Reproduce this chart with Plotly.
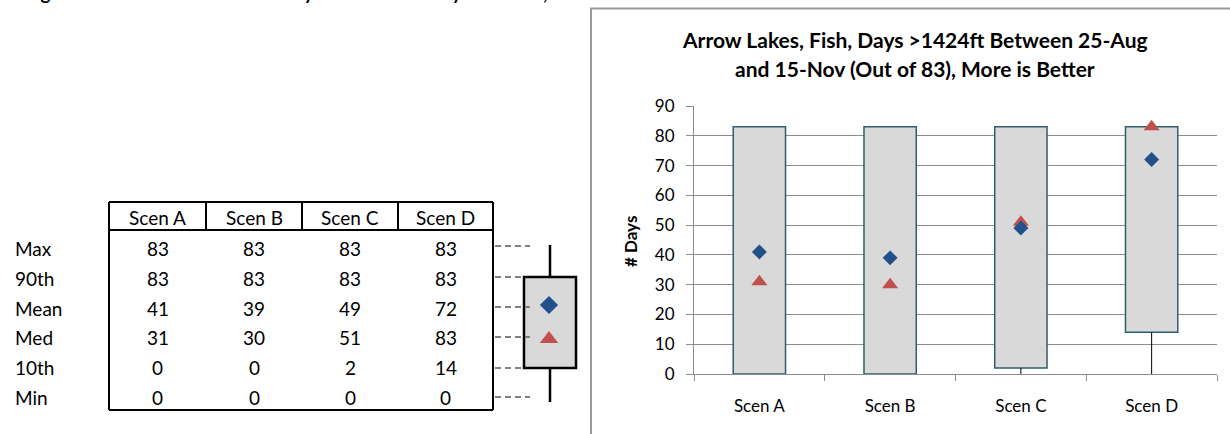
import plotly.graph_objects as go

# ---------------- data ----------------
scenarios = ["Scen A", "Scen B", "Scen C", "Scen D"]
stat_labels = ["Max", "90th", "Mean", "Med", "10th", "Min"]
max_vals = [83, 83, 83, 83]
p90_vals = [83, 83, 83, 83]
mean_vals = [41, 39, 49, 72]
med_vals = [31, 30, 51, 83]
p10_vals = [0, 0, 2, 14]
min_vals = [0, 0, 0, 0]

title_lines = ["Arrow Lakes, Fish, Days >1424ft Between 25-Aug",
               "and 15-Nov (Out of 83), More is Better"]
y_title = "# Days"
top_caption = "Figure 38 \u2013 Arrow Lakes Summary Statistics for Days >1424ft, All Scenarios"

W, H = 1230, 434
FONT = "Lato, Calibri, Carlito, sans-serif"
GRID = "#8C8C8C"
BOX_FILL = "#D9D9D9"
BOX_LINE = "#2E5E6E"
BLUE = "#22508A"
RED = "#C0504D"

fig = go.Figure()

# ---------------- main chart ----------------
wx, wy = [], []
for s, lo, p10, p90, hi in zip(scenarios, min_vals, p10_vals, p90_vals, max_vals):
    wx += [s, s, None, s, s, None]
    wy += [lo, p10, None, p90, hi, None]
fig.add_trace(go.Scatter(x=wx, y=wy, mode="lines", line=dict(color="black", width=1),
                         showlegend=False, hoverinfo="skip"))

fig.add_trace(go.Bar(x=scenarios, y=[h - l for h, l in zip(p90_vals, p10_vals)], base=p10_vals,
                     width=0.4, marker=dict(color=BOX_FILL, line=dict(color=BOX_LINE, width=1.5)),
                     showlegend=False))

fig.add_trace(go.Scatter(x=scenarios, y=med_vals, mode="markers",
                         marker=dict(symbol="triangle-up", size=14, color=RED),
                         showlegend=False))
fig.add_trace(go.Scatter(x=scenarios, y=mean_vals, mode="markers",
                         marker=dict(symbol="diamond", size=11.5, color=BLUE),
                         showlegend=False))

x0p, x1p = 694, 1217
y_top, y_bot = 106, 374

fig.update_layout(
    width=W, height=H, margin=dict(l=0, r=0, t=0, b=0, pad=0, autoexpand=False),
    paper_bgcolor="white", plot_bgcolor="rgba(0,0,0,0)",
    font=dict(family=FONT, color="black"),
    barmode="overlay",
    xaxis=dict(domain=[x0p / W, x1p / W], type="category", tickson="boundaries",
               ticks="outside", ticklen=6, tickcolor=GRID, showline=True, linecolor=GRID,
               showgrid=False, tickfont=dict(size=17), ticklabelstandoff=17,
               range=[-0.5, 3.5], anchor="y", automargin=False),
    yaxis=dict(domain=[(H - y_bot) / H, (H - y_top) / H], range=[0, 90], dtick=10,
               showgrid=True, gridcolor=GRID, gridwidth=1, zeroline=False,
               showline=True, linecolor=GRID, ticks="outside", ticklen=7, tickcolor=GRID,
               tickfont=dict(size=17), ticklabelstandoff=8, anchor="x", automargin=False),
    xaxis2=dict(domain=[0, 1], range=[0, W], visible=False, anchor="y2",
                fixedrange=True, automargin=False),
    yaxis2=dict(domain=[0, 1], range=[H, 0], visible=False, anchor="x2",
                fixedrange=True, automargin=False),
)

shapes = []
ann = []

def line(x0, y0, x1, y1, color="black", width=2, dash=None):
    shapes.append(dict(type="line", xref="x2", yref="y2", x0=x0, y0=y0, x1=x1, y1=y1,
                       line=dict(color=color, width=width, dash=dash)))

def text(x, y, t, size=19, xanchor="center", bold=False, angle=0, yanchor="middle"):
    ann.append(dict(xref="x2", yref="y2", x=x, y=y, text=f"<b>{t}</b>" if bold else t,
                    showarrow=False, xanchor=xanchor, yanchor=yanchor, textangle=angle,
                    font=dict(size=size, family=FONT, color="black")))

# chart outer border (cropped at right/bottom)
shapes.append(dict(type="rect", xref="x2", yref="y2", x0=591, y0=8.5, x1=W + 20, y1=H + 20,
                   line=dict(color="#9A9A9A", width=2), fillcolor="rgba(0,0,0,0)"))

text(915, 39, title_lines[0], size=21, bold=True)
text(915, 68, title_lines[1], size=21, bold=True)
text(630, 242, y_title, size=17, bold=True, angle=-90)

# clipped caption at very top (only its lowest pixels are visible, as in the reference)
ann.append(dict(xref="paper", yref="paper", x=23 / W, y=1, yshift=8, xanchor="left",
                yanchor="middle", showarrow=False, text=f"<b>{top_caption}</b>",
                font=dict(size=19, family=FONT, color="black")))

# ---------------- summary table ----------------
col_edges = [109, 206, 302, 398, 493]
hdr_top, hdr_bot = 202, 230
row_y = [248, 278, 308, 337, 367, 397]
tbl_bot = 410

line(col_edges[0], hdr_top, col_edges[-1], hdr_top)
line(col_edges[0], hdr_bot, col_edges[-1], hdr_bot)
for xe in col_edges[1:-1]:
    line(xe, hdr_top, xe, hdr_bot)
line(col_edges[0], hdr_top, col_edges[0], tbl_bot)
line(col_edges[-1], hdr_top, col_edges[-1], tbl_bot)
line(col_edges[0], tbl_bot, col_edges[-1], tbl_bot)

centers = [(a + b) / 2 for a, b in zip(col_edges[:-1], col_edges[1:])]
for cx, s in zip(centers, scenarios):
    text(cx, (hdr_top + hdr_bot) / 2 + 1, s)

rows = [max_vals, p90_vals, mean_vals, med_vals, p10_vals, min_vals]
for ry, lab, vals in zip(row_y, stat_labels, rows):
    text(13, ry, lab, xanchor="left")
    for cx, v in zip(centers, vals):
        text(cx, ry, str(v))

# ---------------- legend box diagram ----------------
bx0, bx1, by0, by1 = 524, 576, 277, 368
wxc = 550
shapes.append(dict(type="rect", xref="x2", yref="y2", x0=bx0, y0=by0, x1=bx1, y1=by1,
                   line=dict(color="black", width=2.5), fillcolor=BOX_FILL, layer="below"))
line(wxc, 245, wxc, by0, width=2.5)
line(wxc, by1, wxc, 402, width=2.5)
dash_y = [246, 277, 307, 337, 368, 397]
dash_end = [530, 524, 530, 530, 524, 530]
for dy, de in zip(dash_y, dash_end):
    line(495, dy, de, dy, color="#808080", width=2.2, dash="6px,4px")

fig.add_trace(go.Scatter(x=[549], y=[305], mode="markers", xaxis="x2", yaxis="y2",
                         marker=dict(symbol="diamond", size=14, color=BLUE),
                         showlegend=False, hoverinfo="skip"))
fig.add_trace(go.Scatter(x=[549], y=[339], mode="markers", xaxis="x2", yaxis="y2",
                         marker=dict(symbol="triangle-up", size=16, color=RED),
                         showlegend=False, hoverinfo="skip"))

fig.update_layout(shapes=shapes, annotations=ann)
fig.write_html("out.html", config={"displayModeBar": False},
               post_script="document.body.style.margin='0';")
